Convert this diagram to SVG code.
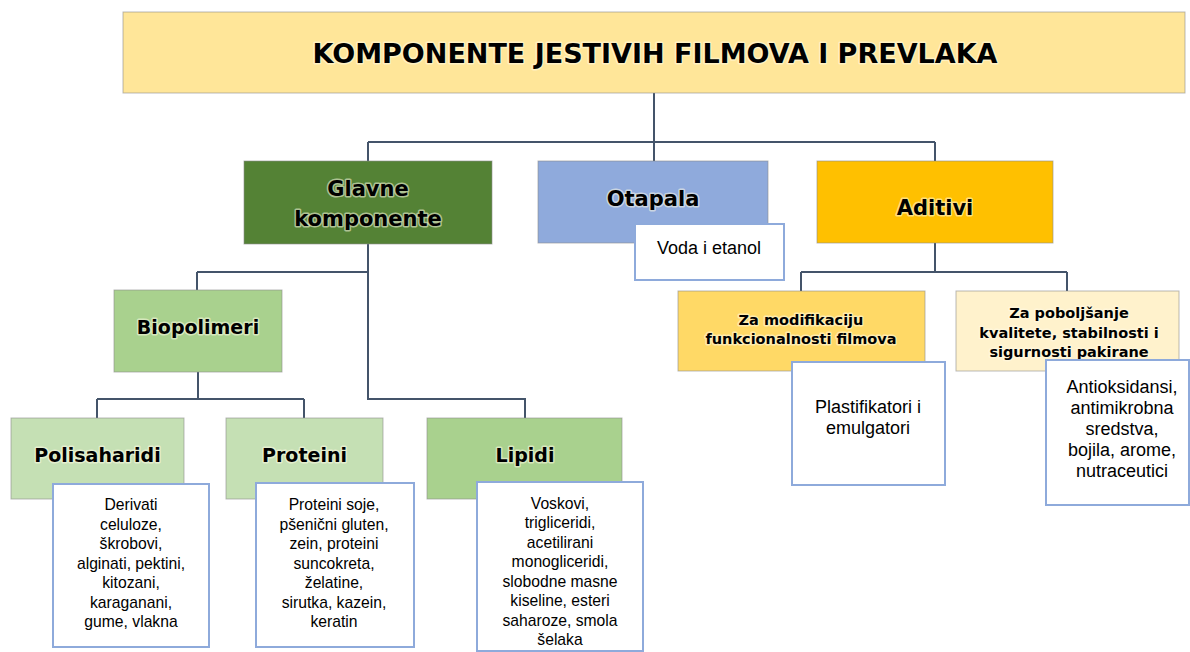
<svg xmlns="http://www.w3.org/2000/svg" width="1190" height="652" viewBox="0 0 1190 652">
<style>
.conn{stroke:#44546a;stroke-width:2;fill:none}
.cb{stroke:#8c8c8c;stroke-opacity:.6;stroke-width:1}
.wb{fill:#ffffff;stroke:#8eaadb;stroke-width:2}
.h{font-family:"DejaVu Sans",Verdana,sans-serif;font-weight:bold;fill:#000;text-anchor:middle;paint-order:stroke;stroke:#fffbe6;stroke-opacity:.55;stroke-width:3;stroke-linejoin:round}
.t{font-family:"Liberation Sans",Arial,sans-serif;fill:#000;text-anchor:middle}
.s{font-size:15.7px}
.l{font-size:18px}
</style>
<rect width="1190" height="652" fill="#ffffff"/>
<g id="connectors">
<path class="conn" d="M654 93V142M368 142H935M368 142V161M654 142V161M935 142V161"/>
<path class="conn" d="M368 244V399H525V418M197 272H368M197 272V290"/>
<path class="conn" d="M198 372V399M97 399H304M97 399V418M304 399V418"/>
<path class="conn" d="M935 243V272M801 272H1067M801 272V291M1067 272V291"/>
</g>
<g id="title">
<rect class="cb" x="123" y="12" width="1062" height="81" fill="#ffe699"/>
<text class="h" x="655" y="63" font-size="27">KOMPONENTE JESTIVIH FILMOVA I PREVLAKA</text>
</g>
<g id="glavne">
<rect class="cb" x="244" y="161" width="248" height="83" fill="#548235"/>
<text class="h" x="368" y="195.5" font-size="21">Glavne</text>
<text class="h" x="368" y="225.5" font-size="21">komponente</text>
</g>
<g id="otapala">
<rect class="cb" x="538" y="161" width="230" height="82" fill="#8faadc"/>
<text class="h" x="653" y="205.5" font-size="21">Otapala</text>
</g>
<g id="voda">
<rect class="wb" x="635" y="224" width="149" height="56"/>
<text class="t l" x="709" y="254">Voda i etanol</text>
</g>
<g id="aditivi">
<rect class="cb" x="817" y="161" width="236" height="82" fill="#ffc000"/>
<text class="h" x="935" y="215" font-size="21">Aditivi</text>
</g>
<g id="biopolimeri">
<rect class="cb" x="114" y="290" width="168" height="82" fill="#a9d18e"/>
<text class="h" x="198" y="333.5" font-size="19">Biopolimeri</text>
</g>
<g id="polisaharidi">
<rect class="cb" x="11" y="418" width="173" height="81" fill="#c5e0b4"/>
<text class="h" x="97.5" y="462" font-size="19">Polisaharidi</text>
</g>
<g id="polisaharidi-detalji">
<rect class="wb" x="53" y="484" width="156" height="163"/>
<text class="t s" x="131" y="510">Derivati</text>
<text class="t s" x="131" y="529.5">celuloze,</text>
<text class="t s" x="131" y="549">škrobovi,</text>
<text class="t s" x="131" y="568.5">alginati, pektini,</text>
<text class="t s" x="131" y="588">kitozani,</text>
<text class="t s" x="131" y="607.5">karaganani,</text>
<text class="t s" x="131" y="627">gume, vlakna</text>
</g>
<g id="proteini">
<rect class="cb" x="226" y="418" width="157" height="81" fill="#c5e0b4"/>
<text class="h" x="304.5" y="462" font-size="19">Proteini</text>
</g>
<g id="proteini-detalji">
<rect class="wb" x="256" y="483" width="158" height="164"/>
<text class="t s" x="334" y="510">Proteini soje,</text>
<text class="t s" x="334" y="529.5">pšenični gluten,</text>
<text class="t s" x="334" y="549">zein, proteini</text>
<text class="t s" x="334" y="568.5">suncokreta,</text>
<text class="t s" x="334" y="588">želatine,</text>
<text class="t s" x="334" y="607.5">sirutka, kazein,</text>
<text class="t s" x="334" y="627">keratin</text>
</g>
<g id="lipidi">
<rect class="cb" x="427" y="418" width="195" height="81" fill="#a9d18e"/>
<text class="h" x="525" y="462" font-size="19">Lipidi</text>
</g>
<g id="lipidi-detalji">
<rect class="wb" x="477" y="482" width="166" height="169"/>
<text class="t s" x="560" y="508.5">Voskovi,</text>
<text class="t s" x="560" y="528">trigliceridi,</text>
<text class="t s" x="560" y="547.5">acetilirani</text>
<text class="t s" x="560" y="567">monogliceridi,</text>
<text class="t s" x="560" y="586.5">slobodne masne</text>
<text class="t s" x="560" y="606">kiseline, esteri</text>
<text class="t s" x="560" y="625.5">saharoze, smola</text>
<text class="t s" x="560" y="645">šelaka</text>
</g>
<g id="modifikacija">
<rect class="cb" x="678" y="291" width="247" height="80" fill="#ffd966"/>
<text class="h" x="801" y="325" font-size="14.5">Za modifikaciju</text>
<text class="h" x="801" y="344" font-size="14.5">funkcionalnosti filmova</text>
</g>
<g id="modifikacija-detalji">
<rect class="wb" x="792" y="362" width="153" height="123"/>
<text class="t l" x="868" y="413">Plastifikatori i</text>
<text class="t l" x="868" y="434">emulgatori</text>
</g>
<g id="poboljsanje">
<rect class="cb" x="956" y="291" width="223" height="80" fill="#fff2cc"/>
<text class="h" x="1069" y="318" font-size="14.5">Za poboljšanje</text>
<text class="h" x="1069" y="338" font-size="14.5">kvalitete, stabilnosti i</text>
<text class="h" x="1069" y="357" font-size="14.5">sigurnosti pakirane</text>
</g>
<g id="poboljsanje-detalji">
<rect class="wb" x="1046" y="360" width="143" height="145"/>
<text class="t l" x="1122" y="393">Antioksidansi,</text>
<text class="t l" x="1122" y="414">antimikrobna</text>
<text class="t l" x="1122" y="435">sredstva,</text>
<text class="t l" x="1122" y="456">bojila, arome,</text>
<text class="t l" x="1122" y="477">nutraceutici</text>
</g>
</svg>
